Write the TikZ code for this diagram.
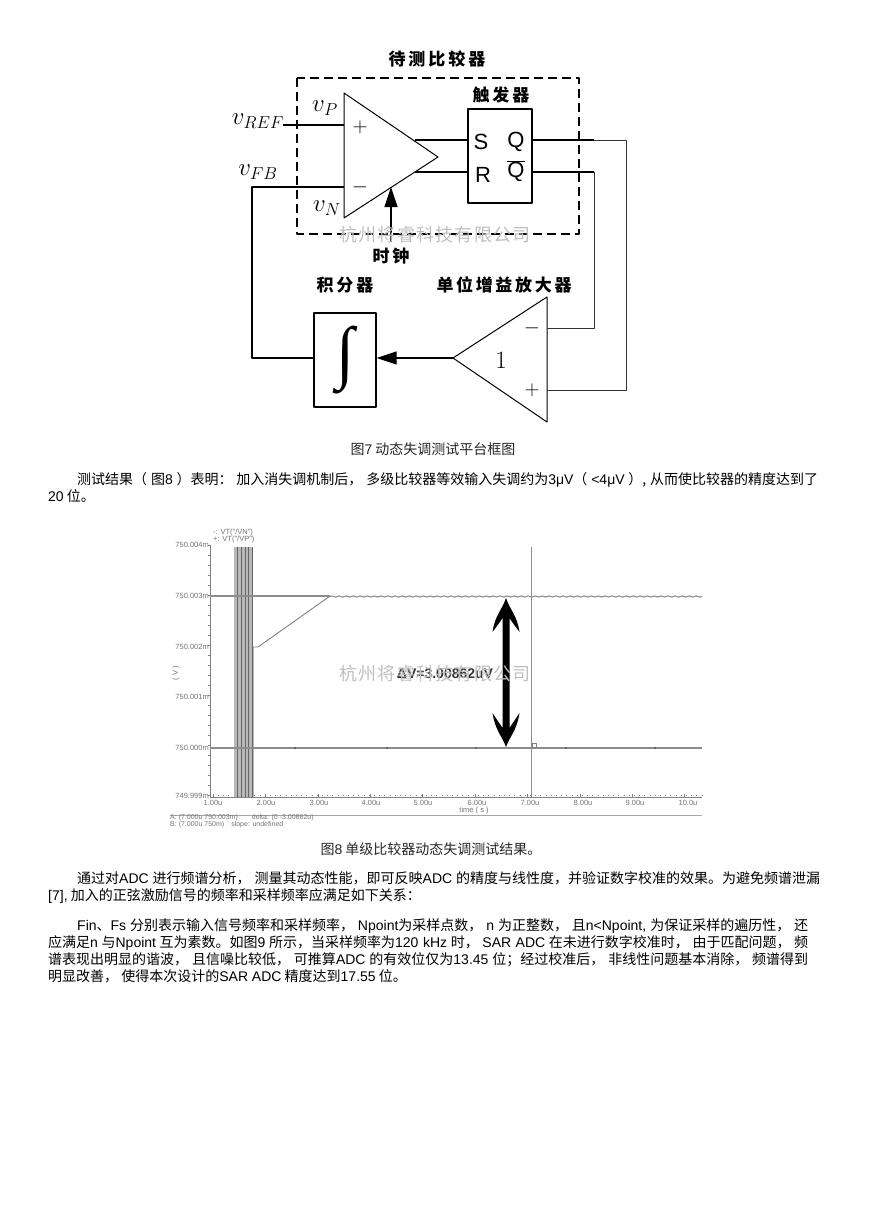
\documentclass[tikz,border=0pt]{standalone}
\usepackage[no-math]{fontspec}
\setmainfont{Noto Sans CJK SC}
\newfontfamily\lat{Liberation Sans}
\newfontfamily\intfont{Liberation Serif}
\newcommand{\la}[1]{{\lat #1}}
\newcommand{\spreadtxt}[2]{\makebox[#1pt][s]{#2}}
\usetikzlibrary{arrows.meta,decorations.pathmorphing}
\tikzset{
 wire/.style={line width=1.2pt},
 thinwire/.style={line width=.9pt,black!80},
 heading/.style={inner sep=0pt,font=\fontsize{17}{18}\selectfont\bfseries},
 vlabel/.style={inner sep=0pt,font=\fontsize{23}{23}\selectfont},
 ffpin/.style={inner sep=0pt,font=\fontsize{22}{22}\selectfont\lat},
 sign/.style={inner sep=0pt,font=\fontsize{21}{21}\selectfont},
 body/.style={anchor=base west,inner sep=0pt,font=\fontsize{14}{16}\selectfont},
 caption/.style={inner sep=0pt,font=\fontsize{14}{16}\selectfont,black!85},
 wmark/.style={inner sep=0pt,font=\fontsize{18}{18}\selectfont,black!25},
 ticktxt/.style={inner sep=0pt,font=\fontsize{7.5}{7.5}\selectfont\lat,black!55},
 trace/.style={line width=1.1pt,black!45},
 axisline/.style={line width=.6pt,black!50},
}
\begin{document}
\begin{tikzpicture}[x=1pt,y=-1pt,>=stealth,line join=round]
 \useasboundingbox (0,0) rectangle (868,1228);
 % block diagram
 \draw[line width=1.3pt,dash pattern=on 9pt off 5pt] (297,78) rectangle (579,234);
 \node[heading] (dut) at (437,59) {\spreadtxt{97}{待\hfill 测\hfill 比\hfill 较\hfill 器}};
 \coordinate (cmptop) at (344,93);
 \coordinate (cmpbot) at (344,218);
 \coordinate (cmptip) at (438,157);
 \draw[line width=1pt] (cmptop)--(cmptip)--(cmpbot)--cycle;
 \node[draw,line width=1.2pt,minimum width=64pt,minimum height=94pt,inner sep=0pt] (ff) at (500,156) {};
 \node[heading] (fflabel) at (501,95) {\spreadtxt{57}{触\hfill 发\hfill 器}};
 \node[ffpin] (pins) at (481,142) {S};
 \node[ffpin] (pinr) at (483,175) {R};
 \node[ffpin] (pinq) at (516,142) {Q};
 \node[ffpin] (pinqb) at (516,171) {$\overline{\hbox{\lat Q}}$};
 \node[sign] (cmpplus) at (360,127) {$+$};
 \node[sign] (cmpminus) at (360,187) {$-$};
 \node[vlabel] (vref) at (258,121) {$v_{REF}$};
 \node[vlabel] (vfb) at (258,172) {$v_{FB}$};
 \node[vlabel] (vp) at (325,108) {$v_{P}$};
 \node[vlabel] (vn) at (327,208) {$v_{N}$};
 \node[heading] (clk) at (391,256) {\spreadtxt{37}{时\hfill 钟}};
 \node[heading] (intlabel) at (345,285) {\spreadtxt{57}{积\hfill 分\hfill 器}};
 \node[heading] (amplabel) at (504,285) {\spreadtxt{135}{单\hfill 位\hfill 增\hfill 益\hfill 放\hfill 大\hfill 器}};
 \node[draw,line width=1.2pt,minimum width=62pt,minimum height=94pt,inner sep=0pt] (integ) at (345,360) {\resizebox*{18pt}{68pt}{\intfont ∫}};
 \coordinate (amptop) at (547,297);
 \coordinate (ampbot) at (547,422);
 \coordinate (amptip) at (453,358);
 \draw[line width=1pt] (amptop)--(amptip)--(ampbot)--cycle;
 \node[sign] (ampminus) at (532,328) {$-$};
 \node[sign] (ampplus) at (532,390) {$+$};
 \node[inner sep=0pt,font=\fontsize{27}{27}\selectfont] (ampgain) at (501,360) {$1$};
 % wires
 \coordinate (refin) at (283,125);
 \coordinate (refpin) at (344,125);
 \coordinate (fbpin) at (344,187);
 \coordinate (fbturn) at (252,187);
 \coordinate (fbdown) at (252,358);
 \coordinate (cmps) at (415,140);
 \coordinate (cmpr) at (415,172);
 \coordinate (qmid) at (594,140);
 \coordinate (qturn) at (626,140);
 \coordinate (qdown) at (626,390);
 \coordinate (qbturn) at (594,172);
 \coordinate (qbdown) at (594,328);
 \coordinate (ampm) at (547,328);
 \coordinate (ampp) at (547,390);
 \coordinate (clkin) at (391,242);
 \coordinate (clktip) at (391,187);
 \draw[wire] (refin)--(refpin);
 \draw[wire] (fbpin)--(fbturn)--(fbdown)--(fbdown-|integ.west);
 \draw[wire] (cmps)--(cmps-|ff.west);
 \draw[wire] (cmpr)--(cmpr-|ff.west);
 \draw[wire] (qmid-|ff.east)--(qmid);
 \draw[thinwire] (qmid)--(qturn)--(qdown)--(ampp);
 \draw[wire] (qbturn-|ff.east)--(qbturn);
 \draw[thinwire] (qbturn)--(qbdown)--(ampm);
 \draw[wire,-{Triangle[length=20pt,width=13pt]}] (clkin)--(clktip);
 \draw[wire,-{Triangle[length=20pt,width=13pt]}] (amptip)--(amptip-|integ.east);
 \node[caption] (fig7) at (433,449) {图\la{7} 动态失调测试平台框图};
 % text above the plot
 \node[body] (l1) at (77,484.5) {\makebox[741pt][s]{测试结果（ 图\la{8} ）表明： 加入消失调机制后， 多级比较器等效输入失调约为\la{3μV}（ \la{<4μV} ）, 从而使比较器的精度达到了}};
 \node[body] (l2) at (48,501.5) {\la{20} 位。};
 % plot
 \foreach \yy in {545,555,...,795} \draw[axisline] (208,\yy)--(210,\yy);
 \foreach \xx in {213,218.2,...,702} \draw[axisline] (\xx,795)--(\xx,796);
 \draw[axisline] (210,545)--(210,797)--(702,797);
 \foreach \xx in {213,265.4,...,700} \draw[axisline] (\xx,794)--(\xx,797);
 \draw[line width=.6pt,black!35] (170,815)--(702,815);
 \node[ticktxt,anchor=east] (ya) at (209,545) {750.004m};
 \node[ticktxt,anchor=east] (yb) at (209,596) {750.003m};
 \node[ticktxt,anchor=east] (yc) at (209,647) {750.002m};
 \node[ticktxt,anchor=east] (yd) at (209,697) {750.001m};
 \node[ticktxt,anchor=east] (ye) at (209,748) {750.000m};
 \node[ticktxt,anchor=east] (yf) at (209,796) {749.999m};
 \node[ticktxt,rotate=90] (yunit) at (176,673) {( V )};
 \node[ticktxt] (xa) at (213,803) {1.00u};
 \node[ticktxt] (xb) at (266,803) {2.00u};
 \node[ticktxt] (xc) at (319,803) {3.00u};
 \node[ticktxt] (xd) at (371,803) {4.00u};
 \node[ticktxt] (xe) at (423,803) {5.00u};
 \node[ticktxt] (xf) at (477,803) {6.00u};
 \node[ticktxt] (xg) at (530,803) {7.00u};
 \node[ticktxt] (xh) at (583,803) {8.00u};
 \node[ticktxt] (xi) at (635,803) {9.00u};
 \node[ticktxt] (xj) at (688,803) {10.0u};
 \node[ticktxt] (xunit) at (474,811) {time ( s )};
 \node[ticktxt,anchor=west,font=\fontsize{7}{7}\selectfont\lat] (cura) at (170,818) {A: (7.000u 750.003m)\quad\quad delta: (0 -3.00862u)};
 \node[ticktxt,anchor=west,font=\fontsize{7}{7}\selectfont\lat] (curb) at (170,825) {B: (7.000u 750m)\quad slope: undefined};
 \node[ticktxt,anchor=west] (lega) at (213,533) {-: VT("/VN")};
 \node[ticktxt,anchor=west] (legb) at (213,540) {+: VT("/VP")};
 \fill[black!28] (234,547) rectangle (252,797);
 \fill[black!28] (252,647) rectangle (254,797);
 \foreach \xx in {237,241,245,248,252} \draw[line width=.6pt,black!60] (\xx,547)--(\xx,797);
 \draw[line width=.8pt,black!45] (531,547)--(531,797);
 \draw[trace] (210,596)--(330,596);
 \draw[trace,decorate,decoration={snake,amplitude=.5pt,segment length=7pt}] (330,596.5)--(702,596.5);
 \draw[line width=.9pt,black!50] (253,647)--(258,647)--(330,596);
 \draw[trace] (210,748)--(702,748);
 \foreach \xx in {295,387,476,566,655} \fill[black!70] (\xx,748) circle (1pt);
 \node[draw=black!50,line width=.4pt,minimum size=4pt,inner sep=0pt] (markb) at (534,745) {};
 \fill[black] (506,598) .. controls (510,610) and (517,615) .. (519.5,632)
 .. controls (515,626) and (512,622) .. (509.5,618)--(509.5,728)
 .. controls (512,724) and (515,720) .. (519.5,713)
 .. controls (517,730) and (510,736) .. (506,747)
 .. controls (502,736) and (495,730) .. (492.5,713)
 .. controls (497,720) and (500,724) .. (502.5,728)--(502.5,618)
 .. controls (500,622) and (497,626) .. (492.5,632)
 .. controls (495,615) and (502,610) .. (506,598)--cycle;
 \node[inner sep=0pt,font=\fontsize{14}{14}\selectfont\lat\bfseries,black!80] (dv) at (445,674) {ΔV=3.00862uV};
 \node[wmark] (wma) at (435,235) {\spreadtxt{192}{杭\hfill 州\hfill 将\hfill 睿\hfill 科\hfill 技\hfill 有\hfill 限\hfill 公\hfill 司}};
 \node[wmark] (wmb) at (435,674) {\spreadtxt{192}{杭\hfill 州\hfill 将\hfill 睿\hfill 科\hfill 技\hfill 有\hfill 限\hfill 公\hfill 司}};
 \node[caption] (fig8) at (431,849) {图\la{8} 单级比较器动态失调测试结果。};
 % text below the plot
 \node[body] (l3) at (77,883.5) {\makebox[743pt][s]{通过对\la{ADC} 进行频谱分析， 测量其动态性能，即可反映\la{ADC} 的精度与线性度，并验证数字校准的效果。为避免频谱泄漏}};
 \node[body] (l4) at (48,900) {\la{[7],} 加入的正弦激励信号的频率和采样频率应满足如下关系：};
 \node[body] (l5) at (77,930) {\makebox[731pt][s]{\la{Fin}、\la{Fs} 分别表示输入信号频率和采样频率， \la{Npoint}为采样点数， \la{n} 为正整数， 且\la{n<Npoint,} 为保证采样的遍历性， 还}};
 \node[body] (l6) at (48,947) {\makebox[760pt][s]{应满足\la{n} 与\la{Npoint} 互为素数。如图\la{9} 所示，当采样频率为\la{120 kHz} 时， \la{SAR ADC} 在未进行数字校准时， 由于匹配问题， 频}};
 \node[body] (l7) at (48,964) {\makebox[760pt][s]{谱表现出明显的谐波， 且信噪比较低， 可推算\la{ADC} 的有效位仅为\la{13.45} 位；经过校准后， 非线性问题基本消除， 频谱得到}};
 \node[body] (l8) at (48,981) {明显改善， 使得本次设计的\la{SAR ADC} 精度达到\la{17.55} 位。};
\end{tikzpicture}
\end{document}
